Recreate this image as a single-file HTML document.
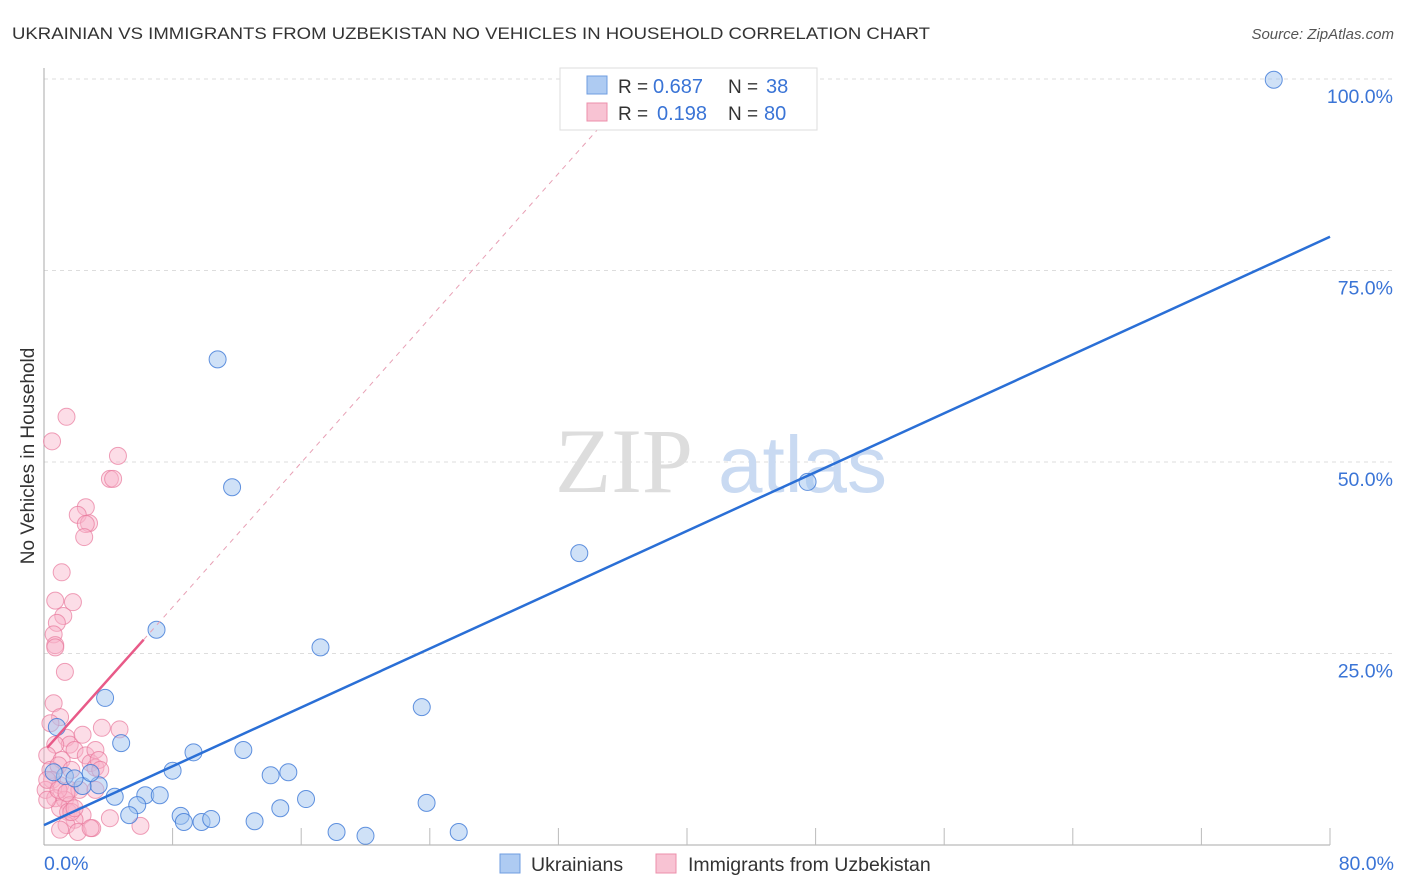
<!DOCTYPE html>
<html><head><meta charset="utf-8"><style>
body{margin:0;background:#fff;font-family:"Liberation Sans",sans-serif;}
svg{display:block}
</style></head><body>
<svg id="chart" width="1406" height="892">
<text x="12" y="39" font-size="17" fill="#333" textLength="918" lengthAdjust="spacingAndGlyphs">UKRAINIAN VS IMMIGRANTS FROM UZBEKISTAN NO VEHICLES IN HOUSEHOLD CORRELATION CHART</text>
<text x="1394" y="39" font-size="15" fill="#555" font-style="italic" text-anchor="end">Source: ZipAtlas.com</text>
<text x="34" y="456" font-size="19" fill="#333" text-anchor="middle" transform="rotate(-90 34 456)">No Vehicles in Household</text>
<g id="grid"></g>
<text x="555" y="492" font-size="92" fill="#ddd" font-family="Liberation Serif,serif">ZIP</text>
<text x="718" y="492" font-size="80" fill="#c9daf2">atlas</text>
<g id="marks"></g>
<g>
<rect x="560" y="68" width="257" height="62" fill="#fff" stroke="#ddd"/>
<rect x="587" y="76" width="20" height="18" fill="#aecbf2" stroke="#6f9de0"/>
<rect x="587" y="103" width="20" height="18" fill="#f8c3d3" stroke="#ec8fab"/>
<text x="618" y="93" font-size="19" fill="#333">R =</text>
<text x="653" y="93" font-size="20" fill="#3a74d6">0.687</text>
<text x="728" y="93" font-size="19" fill="#333">N =</text>
<text x="766" y="93" font-size="20" fill="#3a74d6">38</text>
<text x="618" y="120" font-size="19" fill="#333">R =</text>
<text x="657" y="120" font-size="20" fill="#3a74d6">0.198</text>
<text x="728" y="120" font-size="19" fill="#333">N =</text>
<text x="764" y="120" font-size="20" fill="#3a74d6">80</text>
</g>
<g>
<rect x="500" y="854" width="20" height="19" fill="#aecbf2" stroke="#6f9de0"/>
<text x="531" y="871" font-size="19.5" fill="#333">Ukrainians</text>
<rect x="656" y="854" width="20" height="19" fill="#f8c3d3" stroke="#ec8fab"/>
<text x="688" y="871" font-size="19.5" fill="#333">Immigrants from Uzbekistan</text>
</g>
</svg>
<script>
const blueX=[76.5,10.8,11.7,47.5,33.3,7.0,17.2,3.8,23.5,4.8,0.8,9.3,12.4,8.0,14.1,15.2,3.4,2.4,1.3,2.9,4.4,6.3,7.2,5.8,5.3,8.5,8.7,9.8,10.4,13.1,14.7,16.3,23.8,18.2,20.0,25.8,1.9,0.6];
const blueY=[99.9,63.4,46.7,47.4,38.1,28.1,25.8,19.2,18.0,13.3,15.4,12.1,12.4,9.7,9.1,9.5,7.8,7.7,9.0,9.4,6.3,6.5,6.5,5.2,3.9,3.8,3.0,3.0,3.4,3.1,4.8,6.0,5.5,1.7,1.2,1.7,8.7,9.5];
const pinkX=[1.4,0.5,4.6,4.1,4.3,2.6,2.1,2.8,2.6,2.5,1.1,0.7,1.8,1.2,0.8,0.6,0.7,0.7,1.3,0.6,3.6,4.7,1.0,0.4,1.4,1.6,2.4,0.7,0.2,1.9,2.6,1.1,2.9,3.2,0.4,0.9,1.7,0.5,1.0,1.6,0.1,0.7,1.3,2.2,1.6,1.0,1.5,3.2,2.4,1.9,1.4,1.0,2.1,3.0,4.1,2.9,6.0,3.2,3.4,0.2,0.2,0.9,1.4,1.7,1.9,3.5];
const pinkY=[55.9,52.7,50.8,47.8,47.8,44.1,43.1,42.0,41.9,40.2,35.6,31.9,31.7,29.9,29.0,27.5,26.1,25.8,22.6,18.5,15.3,15.1,16.7,15.9,14.0,13.1,14.4,13.1,11.7,12.4,11.7,11.1,10.7,10.1,9.8,10.4,9.8,8.5,7.8,7.2,7.2,6.1,5.9,7.2,5.2,4.8,4.3,7.2,3.9,3.3,2.6,2.0,1.7,2.2,3.5,2.2,2.5,12.4,11.1,8.5,5.9,7.2,6.8,4.3,4.8,9.8];
const blueLine=[0,2.6,80,79.4];
const pinkLine=[0.2,12.7,6.2,26.8];
const pinkDash=[6.2,26.8,34.9,94.5];
const yTicks=[25,50,75,100];
const xTickVals=[0,8,16,24,32,40,48,56,64,72,80];
const NS="http://www.w3.org/2000/svg";
const sx=v=>44+v*16.075, sy=v=>845-v*7.66;
function mk(t,a,p){const e=document.createElementNS(NS,t);for(const k in a)e.setAttribute(k,a[k]);p.appendChild(e);return e;}
const grid=document.getElementById('grid'),marks=document.getElementById('marks');
yTicks.forEach(t=>{
 const l=mk('line',{x1:44,x2:1394,y1:sy(t),y2:sy(t),stroke:'#ddd','stroke-dasharray':'4 4'},grid);
 
 
 const tx=mk('text',{x:1393,y:sy(t)+24,'font-size':19.5,fill:'#3a74d6','text-anchor':'end'},grid);tx.textContent=t.toFixed(1)+'%';
 
 
});
mk('line',{x1:44,x2:44,y1:68,y2:845,stroke:'#aaa'},grid);
mk('line',{x1:44,x2:1330,y1:845,y2:845,stroke:'#aaa'},grid);
xTickVals.slice(1).forEach(t=>{const l=mk('line',{x1:sx(t),x2:sx(t),y1:828,y2:845,stroke:'#bbb'},grid);
 
 });
let t0=mk('text',{x:44,y:870,'font-size':19.5,fill:'#3a74d6'},grid);t0.textContent='0.0%';


let t1=mk('text',{x:1394,y:870,'font-size':19.5,fill:'#3a74d6','text-anchor':'end'},grid);t1.textContent='80.0%';


pinkX.forEach((x,i)=>{const c=mk('circle',{cx:sx(x),cy:sy(pinkY[i]),r:8.5,fill:'rgba(248,180,202,0.45)',stroke:'rgba(232,120,155,0.7)','stroke-width':1},marks);
 
 });
blueX.forEach((x,i)=>{const c=mk('circle',{cx:sx(x),cy:sy(blueY[i]),r:8.5,fill:'rgba(160,195,240,0.5)',stroke:'rgba(60,120,215,0.8)','stroke-width':1},marks);
 
 });
let d=mk('line',{x1:sx(pinkDash[0]),y1:sy(pinkDash[1]),x2:sx(pinkDash[2]),y2:sy(pinkDash[3]),stroke:'#e8a0b5','stroke-dasharray':'5 5'},marks);


let pl=mk('line',{x1:sx(pinkLine[0]),y1:sy(pinkLine[1]),x2:sx(pinkLine[2]),y2:sy(pinkLine[3]),stroke:'#e85a88','stroke-width':2.5},marks);


let bl=mk('line',{x1:sx(blueLine[0]),y1:sy(blueLine[1]),x2:sx(blueLine[2]),y2:sy(blueLine[3]),stroke:'#2a6fd6','stroke-width':2.5},marks);


</script>
</body></html>
